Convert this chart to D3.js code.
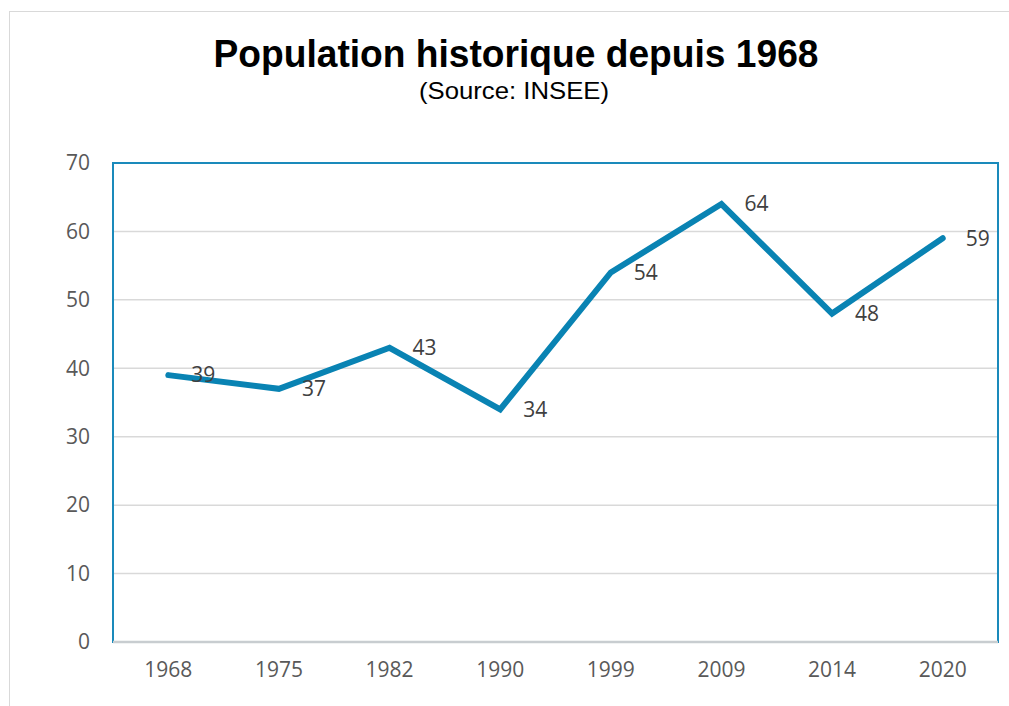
<!DOCTYPE html>
<html>
<head>
<meta charset="utf-8">
<script src="https://cdn.jsdelivr.net/npm/d3@7"></script>
<style>
  body { margin: 0; background: #fff; }
  svg { display: block; }
</style>
</head>
<body>
<svg id="chart" width="1009" height="706"></svg>
<script>
var years = ["1968", "1975", "1982", "1990", "1999", "2009", "2014", "2020"];
var population = [39, 37, 43, 34, 54, 64, 48, 59];
var yTicks = [0, 10, 20, 30, 40, 50, 60, 70];

var svg = d3.select("#chart");
var margin = {top: 163, right: 11, bottom: 64, left: 113};
var width = 1009 - margin.left - margin.right;
var height = 706 - margin.top - margin.bottom;

// outer chart frame
svg.append("rect")
	.attr("x", 9.5).attr("y", 11.5)
	.attr("width", 1010).attr("height", 720)
	.attr("fill", "none")
	.attr("stroke", "#d9d9d9");

svg.append("text")
	.attr("x", 516).attr("y", 67)
	.attr("text-anchor", "middle")
	.attr("textLength", 605)
	.attr("lengthAdjust", "spacingAndGlyphs")
	.style("font-family", "'Liberation Sans', Arial, sans-serif")
	.style("font-weight", "bold")
	.style("font-size", "38px")
	.text("Population historique depuis 1968");

svg.append("text")
	.attr("x", 514).attr("y", 99)
	.attr("text-anchor", "middle")
	.attr("textLength", 190)
	.attr("lengthAdjust", "spacingAndGlyphs")
	.style("font-family", "'Liberation Sans', Arial, sans-serif")
	.style("font-size", "24px")
	.text("(Source: INSEE)");

var g = svg.append("g").attr("transform", "translate(" + margin.left + "," + margin.top + ")");

var x = d3.scaleBand().domain(years).range([0, width]);
var y = d3.scaleLinear().domain([0, 70]).range([height, 0]);

// gridlines
g.selectAll(".grid").data(yTicks.slice(1, -1))
	.enter().append("line")
	.attr("x1", 0).attr("x2", width)
	.attr("y1", d => y(d)).attr("y2", d => y(d))
	.attr("stroke", "#d9d9d9")
	.attr("stroke-width", 1.5);

// plot area border
g.append("rect")
	.attr("x", 0).attr("y", 0)
	.attr("width", width).attr("height", height)
	.attr("fill", "none")
	.attr("stroke", "#1a8abb")
	.attr("stroke-width", 2);

g.append("line")
	.attr("x1", 0).attr("x2", width)
	.attr("y1", height).attr("y2", height)
	.attr("stroke", "#c8cdd0")
	.attr("stroke-width", 2.5);

var tickFont = "'Open Sans', 'Noto Sans', sans-serif";

var yAxis = g.append("g")
	.call(d3.axisLeft(y).tickValues(yTicks).tickSize(0).tickPadding(23));
yAxis.select(".domain").remove();
yAxis.selectAll("text")
	.style("font-family", tickFont).style("font-size", "21px").attr("fill", "#595959");

var xAxis = g.append("g")
	.attr("transform", "translate(0," + height + ")")
	.call(d3.axisBottom(x).tickSize(0).tickPadding(20));
xAxis.select(".domain").remove();
xAxis.selectAll("text")
	.style("font-family", tickFont).style("font-size", "21px").attr("fill", "#595959");

var line = d3.line()
	.x((d, i) => x(years[i]) + x.bandwidth() / 2)
	.y(d => y(d));

g.append("path")
	.datum(population)
	.attr("d", line)
	.attr("fill", "none")
	.attr("stroke", "#0983b3")
	.attr("stroke-width", 6)
	.attr("stroke-linejoin", "miter")
	.attr("stroke-linecap", "round");

g.selectAll(".lbl").data(population)
	.enter().append("text")
	.attr("x", (d, i) => x(years[i]) + x.bandwidth() / 2 + 23)
	.attr("y", d => y(d))
	.attr("dy", "0.35em")
	.style("font-family", tickFont).style("font-size", "21px")
	.attr("fill", "#404040")
	.text(d => d);
</script>
</body>
</html>
